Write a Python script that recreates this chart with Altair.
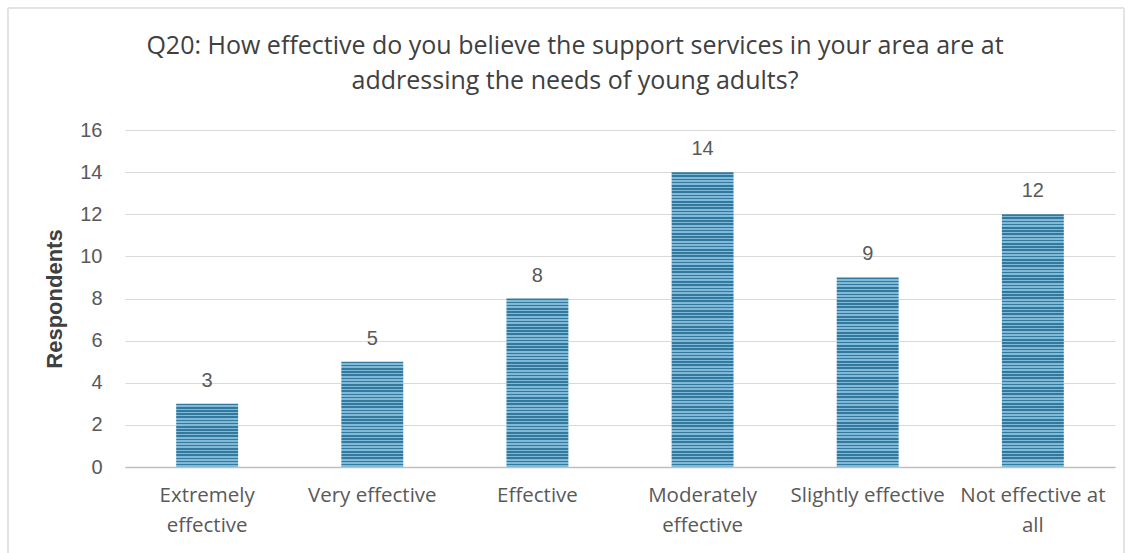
import altair as alt
import pandas as pd

categories = [
    "Extremely effective",
    "Very effective",
    "Effective",
    "Moderately effective",
    "Slightly effective",
    "Not effective at all",
]
respondents = [3, 5, 8, 14, 9, 12]
title_lines = [
    "Q20: How effective do you believe the support services in your area are at",
    "addressing the needs of young adults?",
]

df = pd.DataFrame({"category": categories, "respondents": respondents})

W, H = 990, 337
Y_MAX = 16
DARK = "#33799e"
LIGHT = "#80bad8"
STRIPE_PX = 3.2


def striped(value):
    """Horizontal-stripe fill for a bar of the given value."""
    px = value * H / Y_MAX
    n = max(1, round(px / STRIPE_PX))
    stops = []
    for i in range(n):
        a = i / n
        m = (i + 0.5) / n
        b = (i + 1) / n
        stops += [
            alt.GradientStop(offset=a, color=DARK),
            alt.GradientStop(offset=m, color=DARK),
            alt.GradientStop(offset=m, color=LIGHT),
            alt.GradientStop(offset=b, color=LIGHT),
        ]
    return alt.LinearGradient(gradient="linear", x1=0, y1=0, x2=0, y2=1, stops=stops)


label_expr = (
    "datum.label == 'Extremely effective' ? ['Extremely', 'effective'] : "
    "datum.label == 'Moderately effective' ? ['Moderately', 'effective'] : "
    "datum.label == 'Not effective at all' ? ['Not effective at', 'all'] : datum.label"
)

x_enc = alt.X(
    "category:N",
    sort=categories,
    scale=alt.Scale(paddingInner=0.625, paddingOuter=0.31),
    axis=alt.Axis(
        title=None,
        labelAngle=0,
        labelExpr=label_expr,
        labelFont="Open Sans",
        labelFontSize=20.5,
        labelColor="#595959",
        labelPadding=18,
        labelLineHeight=30,
        labelLimit=0,
        ticks=False,
        domain=True,
        domainColor="#bfbfbf",
        domainWidth=1.5,
        grid=False,
    ),
)

y_enc = alt.Y(
    "respondents:Q",
    scale=alt.Scale(domain=[0, Y_MAX]),
    axis=alt.Axis(
        title="Respondents",
        titleFont="Liberation Sans",
        titleFontSize=22,
        titleFontWeight="bold",
        titleColor="#404040",
        titlePadding=13,
        values=list(range(0, 17, 2)),
        labelFont="Liberation Sans",
        labelFontSize=20,
        labelColor="#595959",
        labelPadding=23,
        ticks=False,
        domain=False,
        grid=True,
        gridColor="#d9d9d9",
        gridWidth=1,
    ),
)

base = alt.Chart(df)

bar_layers = [
    base.transform_filter(alt.datum.category == c)
    .mark_bar(color=striped(v))
    .encode(x=x_enc, y=y_enc)
    for c, v in zip(categories, respondents)
]

labels = base.mark_text(
    dy=-13, baseline="bottom", font="Liberation Sans", fontSize=20, color="#595959"
).encode(x=alt.X("category:N", sort=categories), y="respondents:Q", text="respondents:Q")

frame = base.mark_rect(filled=False, stroke="#e3e3e3", strokeWidth=1, clip=False).encode(
    x=alt.value(-117), x2=alt.value(999), y=alt.value(-122), y2=alt.value(430)
)


def title_line(text, y):
    return (
        alt.Chart(pd.DataFrame({"line": [text]}))
        .mark_text(
            font="Open Sans",
            fontSize=25,
            color="#404040",
            align="center",
            baseline="middle",
            clip=False,
        )
        .encode(text="line:N", x=alt.value(450), y=alt.value(y))
    )


chart = (
    alt.layer(
        frame,
        *bar_layers,
        labels,
        title_line(title_lines[0], -84),
        title_line(title_lines[1], -49),
    )
    .properties(
        width=W,
        height=H,
        padding={"left": 125, "top": 130, "right": 16, "bottom": 86},
        autosize=alt.AutoSizeParams(type="none"),
    )
    .configure(background="white", view=alt.ViewConfig(strokeWidth=0, stroke="transparent"))
)

chart.save("out.html", embed_options={"renderer": "svg", "actions": False})
